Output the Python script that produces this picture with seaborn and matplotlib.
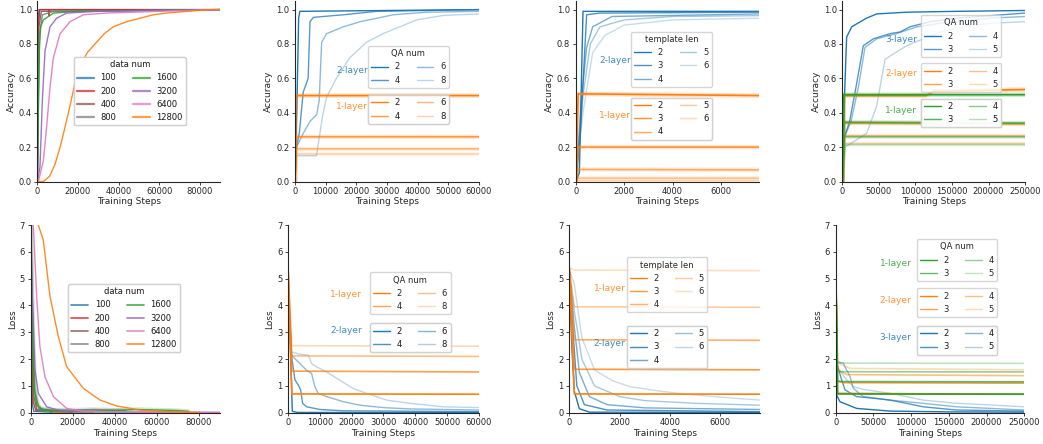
import matplotlib
matplotlib.use("Agg")
import matplotlib.pyplot as plt
import seaborn as sns
from matplotlib.lines import Line2D

# ---- data (step, value) ----
data_num = ["100", "200", "400", "800", "1600", "3200", "6400", "12800"]
data_num_colors = ["tab:blue", "tab:red", "tab:brown", "tab:gray",
                   "tab:green", "tab:purple", "tab:pink", "tab:orange"]

acc_data_num = {
    "100": [(0, 0), (300, 0.9), (800, 1.0), (90000, 1.0)],
    "200": [(0, 0), (500, 0.9), (1200, 1.0), (5500, 1.0), (5800, 0.965), (6100, 1.0), (90000, 1.0)],
    "400": [(0, 0), (800, 0.9), (2000, 0.99), (90000, 1.0)],
    "800": [(0, 0), (1000, 0.85), (2500, 0.97), (8000, 0.99), (90000, 1.0)],
    "1600": [(0, 0), (600, 0.5), (985, 0.76), (1640, 0.9), (2950, 0.94), (8000, 0.98), (20000, 0.99), (90000, 1.0)],
    "3200": [(0, 0), (1300, 0.085), (2460, 0.47), (3780, 0.76), (6240, 0.9), (9500, 0.95), (14450, 0.98), (30000, 0.99), (90000, 1.0)],
    "6400": [(0, 0), (500, 0.0), (2950, 0.12), (4600, 0.32), (6240, 0.55), (7900, 0.72), (11200, 0.86), (16100, 0.93),
             (22700, 0.97), (34200, 0.98), (60000, 0.99), (90000, 1.0)],
    "12800": [(0, 0), (3000, 0.0), (6000, 0.03), (8700, 0.1), (11200, 0.2), (13300, 0.3), (15300, 0.4), (17200, 0.5),
              (19000, 0.6), (21500, 0.68), (24600, 0.75), (28400, 0.8), (33000, 0.86), (37400, 0.9), (44000, 0.93),
              (50600, 0.95), (57000, 0.97), (63700, 0.98), (73600, 0.99), (85000, 1.0), (90000, 1.0)],
}
loss_data_num = {
    "100": [(0, 7.5), (300, 3.0), (800, 0.3), (1500, 0.05), (10000, 0.02)],
    "200": [(0, 7.5), (500, 3.0), (1200, 0.4), (2500, 0.08), (5000, 0.12), (8000, 0.1), (10000, 0.03), (20000, 0.02)],
    "400": [(0, 7.5), (700, 3.5), (1500, 0.6), (3000, 0.1), (20000, 0.03), (30000, 0.03)],
    "800": [(0, 7.5), (800, 4.0), (2000, 0.8), (4000, 0.15), (10000, 0.1), (20000, 0.1), (30000, 0.12),
            (40000, 0.1), (45000, 0.08)],
    "1600": [(0, 7.5), (160, 5.8), (800, 2.8), (1600, 0.97), (2850, 0.29), (6000, 0.1), (20000, 0.05),
             (40000, 0.08), (50000, 0.12), (60000, 0.1), (70000, 0.08), (75000, 0.05)],
    "3200": [(0, 7.5), (630, 4.7), (2060, 1.6), (3640, 0.72), (7600, 0.22), (15000, 0.05), (40000, 0.02), (90000, 0.01)],
    "6400": [(0, 8.0), (1270, 7.0), (2850, 4.33), (4400, 2.46), (6800, 1.34), (10800, 0.6), (17100, 0.16),
             (25000, 0.05), (60000, 0.02), (90000, 0.01)],
    "12800": [(0, 9.5), (3640, 7.0), (6000, 6.44), (9200, 4.33), (13150, 2.84), (17100, 1.72), (25000, 0.91),
              (33000, 0.47), (40900, 0.25), (52000, 0.1), (64600, 0.04), (80500, 0.01)],
}

qa_num = ["2", "4", "6", "8"]
acc_qa_2layer = {
    "2": [(0, 0), (700, 0.5), (1200, 0.95), (1600, 0.99), (60000, 1.0)],
    "4": [(0, 0), (500, 0.2), (1400, 0.28), (2700, 0.52), (4300, 0.6), (4900, 0.93), (6000, 0.955),
          (15800, 0.97), (26600, 0.99), (43000, 0.995), (60000, 1.0)],
    "6": [(0, 0), (500, 0.2), (2700, 0.28), (4900, 0.35), (7100, 0.39), (7900, 0.47), (8700, 0.81), (10300, 0.86),
          (15800, 0.9), (21300, 0.93), (32100, 0.97), (42900, 0.985), (60000, 0.99)],
    "8": [(0, 0), (500, 0.15), (7000, 0.15), (9100, 0.39), (10300, 0.49), (13500, 0.6), (17900, 0.72), (23300, 0.81),
          (28700, 0.86), (34200, 0.9), (39600, 0.94), (48300, 0.966), (60000, 0.975)],
}
acc_qa_1layer = {
    "2": [(0, 0), (300, 0.5), (60000, 0.5)],
    "4": [(0, 0), (300, 0.26), (60000, 0.26)],
    "6": [(0, 0), (300, 0.19), (60000, 0.19)],
    "8": [(0, 0), (300, 0.16), (60000, 0.16)],
}
loss_qa_1layer = {
    "2": [(0, 5.5), (1200, 0.7), (60000, 0.69)],
    "4": [(0, 5.5), (1200, 1.55), (60000, 1.52)],
    "6": [(0, 5.5), (1200, 2.12), (60000, 2.1)],
    "8": [(0, 5.5), (1200, 2.5), (60000, 2.48)],
}
loss_qa_2layer = {
    "2": [(0, 5.0), (900, 2.0), (1360, 0.05), (3000, 0.01), (60000, 0.005)],
    "4": [(0, 5.0), (1150, 2.08), (2200, 1.22), (3250, 1.03), (4000, 0.84), (4600, 0.35), (5900, 0.22),
          (10000, 0.12), (17400, 0.07), (60000, 0.04)],
    "6": [(0, 5.0), (1150, 2.14), (3770, 1.83), (5860, 1.58), (7430, 1.46), (8480, 0.96), (9530, 0.72),
          (12150, 0.6), (17400, 0.41), (22600, 0.28), (30000, 0.19), (38300, 0.14), (60000, 0.1)],
    "8": [(0, 5.0), (1150, 2.26), (3770, 2.18), (6400, 2.14), (7430, 1.83), (9000, 1.71), (12150, 1.52),
          (16300, 1.21), (20500, 0.9), (24700, 0.72), (31000, 0.47), (38300, 0.35), (48800, 0.22), (60000, 0.19)],
}

template_len = ["2", "3", "4", "5", "6"]
acc_tl_2layer = {
    "2": [(0, 0), (150, 0.05), (300, 0.99), (7570, 0.99)],
    "3": [(0, 0), (200, 0.3), (450, 0.97), (1000, 0.98), (7570, 0.985)],
    "4": [(0, 0), (250, 0.5), (450, 0.78), (700, 0.9), (1500, 0.96), (7570, 0.975)],
    "5": [(0, 0), (300, 0.5), (600, 0.8), (1000, 0.9), (2000, 0.94), (4000, 0.96), (7570, 0.965)],
    "6": [(0, 0), (300, 0.4), (700, 0.75), (1200, 0.85), (2000, 0.91), (4000, 0.94), (7570, 0.95)],
}
acc_tl_1layer = {
    "2": [(0, 0), (100, 0.51), (7570, 0.5)],
    "3": [(0, 0), (100, 0.2), (7570, 0.2)],
    "4": [(0, 0), (100, 0.07), (7570, 0.068)],
    "5": [(0, 0), (100, 0.02), (7570, 0.02)],
    "6": [(0, 0), (100, 0.005), (7570, 0.005)],
}
loss_tl_1layer = {
    "2": [(0, 5.4), (200, 0.7), (7570, 0.69)],
    "3": [(0, 5.4), (200, 1.62), (7570, 1.6)],
    "4": [(0, 5.4), (200, 2.72), (7570, 2.7)],
    "5": [(0, 5.4), (200, 3.95), (7570, 3.93)],
    "6": [(0, 5.4), (200, 5.32), (7570, 5.3)],
}
loss_tl_2layer = {
    "2": [(0, 5.3), (100, 2.5), (200, 0.8), (400, 0.15), (800, 0.02), (7570, 0.01)],
    "3": [(0, 5.3), (150, 3.0), (300, 1.0), (600, 0.3), (1500, 0.1), (7570, 0.04)],
    "4": [(0, 5.3), (200, 3.2), (400, 1.5), (800, 0.6), (1500, 0.3), (3000, 0.18), (7570, 0.12)],
    "5": [(0, 5.3), (200, 3.8), (500, 2.0), (1000, 1.0), (2000, 0.6), (3000, 0.45), (5000, 0.35), (7570, 0.28)],
    "6": [(0, 5.3), (200, 4.8), (500, 2.8), (1000, 1.6), (1700, 1.2), (2400, 0.97), (3700, 0.79), (5000, 0.66),
          (6000, 0.58), (7570, 0.47)],
}

qa_num_deep = ["2", "3", "4", "5"]
acc_deep_3layer = {
    "2": [(0, 0), (3000, 0.5), (5900, 0.84), (12800, 0.9), (33000, 0.95), (47000, 0.975), (88000, 0.985),
          (157000, 0.99), (250000, 0.995)],
    "3": [(0, 0), (3000, 0.26), (10000, 0.35), (19600, 0.57), (28700, 0.79), (42400, 0.83), (65200, 0.86),
          (78900, 0.87), (92600, 0.9), (120000, 0.93), (156000, 0.95), (250000, 0.98)],
    "4": [(0, 0), (3000, 0.26), (12000, 0.35), (22000, 0.55), (31000, 0.78), (47000, 0.83), (74000, 0.86),
          (102000, 0.9), (133000, 0.92), (200000, 0.95), (250000, 0.96)],
    "5": [(0, 0), (3650, 0.2), (33300, 0.28), (47000, 0.44), (58400, 0.71), (65200, 0.73), (88000, 0.79),
          (110800, 0.83), (133600, 0.87), (165500, 0.9), (202000, 0.92), (250000, 0.93)],
}
acc_deep_2layer = {
    "2": [(0, 0), (2000, 0.5), (115000, 0.5), (125000, 0.525), (250000, 0.535)],
    "3": [(0, 0), (2000, 0.34), (250000, 0.335)],
    "4": [(0, 0), (2000, 0.265), (250000, 0.265)],
    "5": [(0, 0), (2000, 0.22), (250000, 0.22)],
}
acc_deep_1layer = {
    "2": [(0, 0), (2000, 0.505), (250000, 0.505)],
    "3": [(0, 0), (2000, 0.345), (250000, 0.34)],
    "4": [(0, 0), (2000, 0.26), (250000, 0.26)],
    "5": [(0, 0), (2000, 0.215), (250000, 0.215)],
}
loss_deep_1layer = {
    "2": [(0, 5.5), (2500, 0.7), (250000, 0.69)],
    "3": [(0, 5.5), (2500, 1.16), (250000, 1.15)],
    "4": [(0, 5.5), (2500, 1.53), (250000, 1.52)],
    "5": [(0, 5.5), (2500, 1.85), (250000, 1.84)],
}
loss_deep_2layer = {
    "2": [(0, 5.5), (2500, 0.72), (250000, 0.69)],
    "3": [(0, 5.5), (2500, 1.2), (10000, 1.12), (250000, 1.1)],
    "4": [(0, 5.5), (2500, 1.6), (15000, 1.42), (250000, 1.38)],
    "5": [(0, 5.5), (2500, 1.9), (10000, 1.75), (20000, 1.65), (250000, 1.6)],
}
loss_deep_3layer = {
    "2": [(0, 5.5), (1300, 0.66), (5700, 0.41), (27800, 0.16), (72000, 0.06), (150000, 0.03), (250000, 0.02)],
    "3": [(0, 5.5), (1300, 1.85), (8000, 1.22), (12400, 0.85), (27800, 0.6), (50000, 0.54), (72000, 0.47),
          (94000, 0.35), (116000, 0.22), (160000, 0.1), (250000, 0.06)],
    "4": [(0, 5.5), (1300, 1.9), (10000, 1.85), (19000, 1.35), (23400, 0.91), (36700, 0.6), (72000, 0.47),
          (116000, 0.35), (160000, 0.22), (250000, 0.1)],
    "5": [(0, 5.5), (1300, 1.73), (14600, 1.22), (23400, 0.97), (36700, 0.87), (72000, 0.72), (94000, 0.6),
          (116000, 0.47), (160000, 0.35), (204500, 0.29), (250000, 0.22)],
}

# ---- style ----
sns.set_style("ticks")
plt.rcParams["font.family"] = ["DejaVu Sans"]
FS = 6
ALPHA4 = [1.0, 0.75, 0.5, 0.3]
ALPHA5 = [1.0, 0.8, 0.6, 0.4, 0.25]

fig = plt.figure(figsize=(10.43, 4.44), dpi=100)
top_b, top_h = 0.5912, 0.4065
bot_b, bot_h = 0.0705, 0.4227
axes_top = [fig.add_axes([l, top_b, w, top_h]) for l, w in
            [(0.0358, 0.1752), (0.2828, 0.1764), (0.552, 0.1757), (0.8076, 0.1752)]]
axes_bot = [fig.add_axes([l, bot_b, w, bot_h]) for l, w in
            [(0.0294, 0.1815), (0.2761, 0.1831), (0.5458, 0.1828), (0.8012, 0.1808)]]


def draw(ax, pts, color, alpha, lw=1.0, band=False):
    xs = [p[0] for p in pts]
    ys = [p[1] for p in pts]
    if band:
        # soft halo standing in for the noisy spread of the raw curves
        sns.lineplot(x=xs, y=ys, ax=ax, color=color, alpha=alpha * 0.25, lw=3.2,
                     estimator=None, sort=False)
    sns.lineplot(x=xs, y=ys, ax=ax, color=color, alpha=alpha, lw=lw,
                 estimator=None, sort=False)


def add_legend(ax, labels, color, alphas, anchor, title=None, lw=1.0, colors=None):
    handles = []
    for i, lab in enumerate(labels):
        c = colors[i] if colors else color
        handles.append(Line2D([], [], color=c, alpha=alphas[i], lw=lw))
    leg = ax.legend(handles, labels, title=title, ncol=2, fontsize=FS, title_fontsize=FS,
                    loc="upper left", bbox_to_anchor=anchor, borderaxespad=0, frameon=True)
    ax.add_artist(leg)
    return leg


def label(ax, x, y, txt, color):
    ax.text(x, y, txt, transform=ax.transAxes, color=color, alpha=0.85,
            ha="center", va="center", fontsize=FS + 0.5)


def finish(ax, xlim, xticks, ylabel, loss):
    ax.set_xlim(*xlim)
    ax.set_xticks(xticks)
    if loss:
        ax.set_ylim(0, 7)
        ax.set_yticks(range(0, 8))
    else:
        ax.set_ylim(0, 1.05)
        ax.set_yticks([0, 0.2, 0.4, 0.6, 0.8, 1.0])
    ax.set_xlabel("Training Steps", fontsize=FS + 0.5, labelpad=1)
    ax.set_ylabel(ylabel, fontsize=FS + 0.5, labelpad=2)
    ax.tick_params(labelsize=FS, length=2.5, width=0.6, pad=1.5)
    ax.ticklabel_format(axis="x", style="plain", useOffset=False)
    sns.despine(ax=ax)
    for s in ["left", "bottom"]:
        ax.spines[s].set_linewidth(0.8)


# ---- panel 1: data num ----
ax = axes_top[0]
for lab, c in zip(data_num, data_num_colors):
    draw(ax, acc_data_num[lab], c, 0.9)
finish(ax, (0, 90000), range(0, 90000, 20000), "Accuracy", False)
add_legend(ax, data_num, None, [0.7] * 8, (0.2, 0.69), "data num", lw=1.6, colors=data_num_colors)

ax = axes_bot[0]
for lab, c in zip(data_num, data_num_colors):
    draw(ax, loss_data_num[lab], c, 0.9, band=lab in ("800", "1600"))
finish(ax, (0, 90000), range(0, 90000, 20000), "Loss", True)
add_legend(ax, data_num, None, [0.8] * 8, (0.197, 0.686), "data num", lw=1.2, colors=data_num_colors)

# ---- panel 2: QA num, 1 vs 2 layer ----
ax = axes_top[1]
for i, lab in enumerate(qa_num):
    draw(ax, acc_qa_2layer[lab], "tab:blue", ALPHA4[i])
for i, lab in enumerate(qa_num):
    draw(ax, acc_qa_1layer[lab], "tab:orange", ALPHA4[i], lw=1.2, band=True)
finish(ax, (0, 60000), range(0, 60001, 10000), "Accuracy", False)
add_legend(ax, qa_num, "tab:blue", ALPHA4, (0.397, 0.751), "QA num")
add_legend(ax, qa_num, "tab:orange", ALPHA4, (0.397, 0.479))
label(ax, 0.31, 0.614, "2-layer", "tab:blue")
label(ax, 0.31, 0.418, "1-layer", "tab:orange")

ax = axes_bot[1]
for i, lab in enumerate(qa_num):
    draw(ax, loss_qa_2layer[lab], "tab:blue", ALPHA4[i])
for i, lab in enumerate(qa_num):
    draw(ax, loss_qa_1layer[lab], "tab:orange", ALPHA4[i], lw=1.2)
finish(ax, (0, 60000), range(0, 60001, 10000), "Loss", True)
add_legend(ax, qa_num, "tab:orange", ALPHA4, (0.429, 0.748), "QA num")
add_legend(ax, qa_num, "tab:blue", ALPHA4, (0.429, 0.476))
label(ax, 0.304, 0.632, "1-layer", "tab:orange")
label(ax, 0.304, 0.437, "2-layer", "tab:blue")

# ---- panel 3: template len ----
ax = axes_top[2]
for i, lab in enumerate(template_len):
    draw(ax, acc_tl_2layer[lab], "tab:blue", ALPHA5[i])
for i, lab in enumerate(template_len):
    draw(ax, acc_tl_1layer[lab], "tab:orange", ALPHA5[i], lw=1.2, band=True)
finish(ax, (0, 7570), [0, 2000, 4000, 6000], "Accuracy", False)
add_legend(ax, template_len, "tab:blue", ALPHA5, (0.302, 0.83), "template len")
add_legend(ax, template_len, "tab:orange", ALPHA5, (0.302, 0.464))
label(ax, 0.214, 0.673, "2-layer", "tab:blue")
label(ax, 0.214, 0.368, "1-layer", "tab:orange")

ax = axes_bot[2]
for i, lab in enumerate(template_len):
    draw(ax, loss_tl_2layer[lab], "tab:blue", ALPHA5[i])
for i, lab in enumerate(template_len):
    draw(ax, loss_tl_1layer[lab], "tab:orange", ALPHA5[i], lw=1.2)
finish(ax, (0, 7570), [0, 2000, 4000, 6000], "Loss", True)
add_legend(ax, template_len, "tab:orange", ALPHA5, (0.301, 0.828), "template len")
add_legend(ax, template_len, "tab:blue", ALPHA5, (0.301, 0.462))
label(ax, 0.212, 0.663, "1-layer", "tab:orange")
label(ax, 0.212, 0.37, "2-layer", "tab:blue")

# ---- panel 4: depth ----
ax = axes_top[3]
for i, lab in enumerate(qa_num_deep):
    draw(ax, acc_deep_3layer[lab], "tab:blue", ALPHA4[i])
for i, lab in enumerate(qa_num_deep):
    draw(ax, acc_deep_2layer[lab], "tab:orange", ALPHA4[i], lw=1.2, band=True)
for i, lab in enumerate(qa_num_deep):
    draw(ax, acc_deep_1layer[lab], "tab:green", ALPHA4[i], lw=1.2, band=True)
finish(ax, (0, 250000), range(0, 250001, 50000), "Accuracy", False)
add_legend(ax, qa_num_deep, "tab:blue", ALPHA4, (0.429, 0.922), "QA num")
add_legend(ax, qa_num_deep, "tab:orange", ALPHA4, (0.429, 0.655))
add_legend(ax, qa_num_deep, "tab:green", ALPHA4, (0.429, 0.459))
label(ax, 0.321, 0.788, "3-layer", "tab:blue")
label(ax, 0.321, 0.6, "2-layer", "tab:orange")
label(ax, 0.321, 0.396, "1-layer", "tab:green")

ax = axes_bot[3]
for i, lab in enumerate(qa_num_deep):
    draw(ax, loss_deep_3layer[lab], "tab:blue", ALPHA4[i])
for i, lab in enumerate(qa_num_deep):
    draw(ax, loss_deep_2layer[lab], "tab:orange", ALPHA4[i], lw=1.2)
for i, lab in enumerate(qa_num_deep):
    draw(ax, loss_deep_1layer[lab], "tab:green", ALPHA4[i], lw=1.2)
finish(ax, (0, 250000), range(0, 250001, 50000), "Loss", True)
add_legend(ax, qa_num_deep, "tab:green", ALPHA4, (0.43, 0.925), "QA num")
add_legend(ax, qa_num_deep, "tab:orange", ALPHA4, (0.43, 0.663))
add_legend(ax, qa_num_deep, "tab:blue", ALPHA4, (0.43, 0.462))
label(ax, 0.318, 0.796, "1-layer", "tab:green")
label(ax, 0.318, 0.597, "2-layer", "tab:orange")
label(ax, 0.318, 0.4, "3-layer", "tab:blue")

fig.savefig("out.png", dpi=100)
